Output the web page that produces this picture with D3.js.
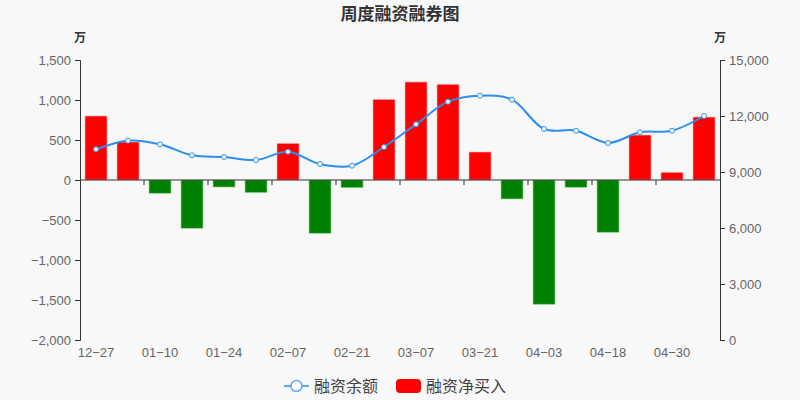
<!DOCTYPE html>
<html lang="zh">
<head>
<meta charset="UTF-8">
<title>周度融资融券图</title>
<script src="https://cdnjs.cloudflare.com/ajax/libs/d3/7.8.5/d3.min.js"></script>
<style>
  body { margin: 0; background: #f8f8f8; }
  svg { display: block; font-family: "Noto Sans CJK SC", "Noto Sans", sans-serif; }
</style>
</head>
<body>
<div id="chart"></div>
<script>
// weekly categories
const dates = ["12-27", "01-03", "01-10", "01-17", "01-24", "01-27", "02-07", "02-14", "02-21", "02-28",
               "03-07", "03-14", "03-21", "03-28", "04-03", "04-11", "04-18", "04-25", "04-30", "05-09"];
// 融资净买入 (万)
const netBuy = [800, 475, -167, -604, -88, -158, 458, -667, -96, 1008,
                1225, 1196, 350, -237, -1554, -92, -654, 562, 96, 787];
// 融资余额 (万)
const balance = [10216, 10679, 10482, 9893, 9804, 9643, 10089, 9429, 9339, 10339,
                 11554, 12768, 13089, 12875, 11304, 11214, 10554, 11125, 11214, 12000];
const leftTicks = [-2000, -1500, -1000, -500, 0, 500, 1000, 1500];
const rightTicks = [0, 3000, 6000, 9000, 12000, 15000];

const width = 800, height = 400;
const margin = { top: 60, right: 80, bottom: 60, left: 80 };

const svg = d3.select("#chart").append("svg")
    .attr("width", width)
    .attr("height", height);

svg.append("rect").attr("width", width).attr("height", height).attr("fill", "#f8f8f8");

const x = d3.scaleBand()
    .domain(dates)
    .range([margin.left, width - margin.right]);

const yL = d3.scaleLinear().domain([-2000, 1500]).range([height - margin.bottom, margin.top]);
const yR = d3.scaleLinear().domain([0, 15000]).range([height - margin.bottom, margin.top]);

const fmt = d3.format(",");

// title
svg.append("text")
    .attr("x", width / 2).attr("y", 20)
    .attr("text-anchor", "middle")
    .attr("font-size", 17).attr("font-weight", "bold")
    .attr("fill", "#333")
    .text("周度融资融券图");

// left axis
const gL = svg.append("g")
    .attr("transform", `translate(${margin.left},0)`)
    .call(d3.axisLeft(yL).tickValues(leftTicks).tickFormat(fmt).tickSize(5).tickPadding(4));
// right axis
const gR = svg.append("g")
    .attr("transform", `translate(${width - margin.right},0)`)
    .call(d3.axisRight(yR).tickValues(rightTicks).tickFormat(fmt).tickSize(5).tickPadding(4));

[gL, gR].forEach(g => {
  g.select(".domain").attr("stroke", "#333");
  g.selectAll(".tick line").attr("stroke", "#333");
  g.selectAll(".tick text").attr("fill", "#666").attr("font-size", 13)
    .attr("font-family", "'Liberation Sans', Arial, sans-serif");
});

// unit labels
svg.append("text").attr("x", margin.left).attr("y", 42).attr("text-anchor", "middle")
    .attr("font-size", 12).attr("font-weight", "bold").attr("fill", "#333").text("万");
svg.append("text").attr("x", width - margin.right).attr("y", 42).attr("text-anchor", "middle")
    .attr("font-size", 12).attr("font-weight", "bold").attr("fill", "#333").text("万");

// x axis at zero
const zeroY = yL(0);
const gX = svg.append("g").attr("transform", `translate(0,${zeroY})`);
gX.append("line")
    .attr("x1", margin.left).attr("x2", width - margin.right)
    .attr("stroke", "#333");
dates.forEach((d, i) => {
  if (i % 2 === 0 && i > 0) {
    gX.append("line")
      .attr("x1", x(d)).attr("x2", x(d))
      .attr("y1", 0).attr("y2", 5)
      .attr("stroke", "#333");
  }
});

// bars
const barW = 22;
svg.append("g").selectAll("rect")
  .data(netBuy)
  .join("rect")
    .attr("x", (d, i) => x(dates[i]) + x.bandwidth() / 2 - barW / 2)
    .attr("y", d => d >= 0 ? yL(d) : zeroY)
    .attr("width", barW)
    .attr("height", d => Math.abs(yL(d) - zeroY))
    .attr("fill", d => d >= 0 ? "#ff0000" : "#008000")
    .attr("stroke", d => d >= 0 ? "rgba(255,180,180,0.8)" : "rgba(150,220,150,0.8)")
    .attr("stroke-width", 0.8);

// redraw axis line on top of bars
gX.raise();

// x labels
svg.append("g").selectAll("text")
  .data(dates.filter((d, i) => i % 2 === 0))
  .join("text")
    .attr("x", d => x(d) + x.bandwidth() / 2)
    .attr("y", height - margin.bottom + 17)
    .attr("text-anchor", "middle")
    .attr("font-size", 13)
    .attr("font-family", "'Liberation Sans', Arial, sans-serif")
    .attr("fill", "#666")
    .text(d => d.replace("-", "\u2212"));

// balance line
const line = d3.line()
    .x((d, i) => x(dates[i]) + x.bandwidth() / 2)
    .y(d => yR(d))
    .curve(d3.curveCatmullRom.alpha(0.5));

svg.append("path")
    .datum(balance)
    .attr("d", line)
    .attr("fill", "none")
    .attr("stroke", "#2b8ef0")
    .attr("stroke-width", 2);

svg.append("g").selectAll("circle")
  .data(balance)
  .join("circle")
    .attr("cx", (d, i) => x(dates[i]) + x.bandwidth() / 2)
    .attr("cy", d => yR(d))
    .attr("r", 2.5)
    .attr("fill", "#fff")
    .attr("stroke", "#2b8ef0")
    .attr("stroke-width", 1);

// legend
const lg = svg.append("g").attr("transform", "translate(0,386)");
lg.append("line").attr("x1", 284).attr("x2", 309).attr("stroke", "#5ea8f5").attr("stroke-width", 2);
lg.append("circle").attr("cx", 296.5).attr("r", 5.5).attr("fill", "#fff").attr("stroke", "#5ea8f5").attr("stroke-width", 1.5);
lg.append("text").attr("x", 314).attr("y", 6).attr("font-size", 16).attr("fill", "#444").text("融资余额");
lg.append("rect").attr("x", 396).attr("y", -7).attr("width", 25).attr("height", 14).attr("rx", 4)
    .attr("fill", "#ff0000");
lg.append("text").attr("x", 426).attr("y", 6).attr("font-size", 16).attr("fill", "#444").text("融资净买入");
</script>
</body>
</html>
